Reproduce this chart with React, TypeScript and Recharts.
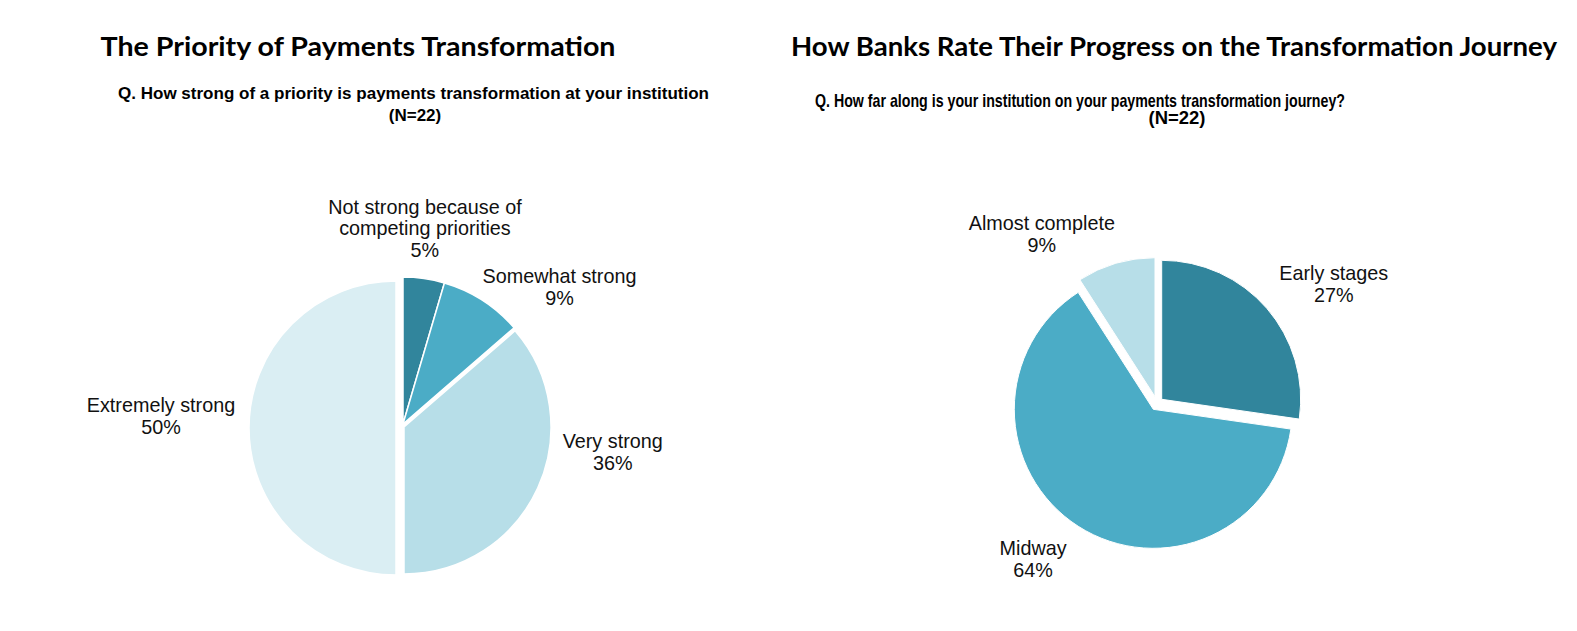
import React from "react";
import { PieChart, Pie, Cell } from "recharts";

// survey answers, N=22
const priorityNames = ["Not strong because of competing priorities", "Somewhat strong", "Very strong", "Extremely strong"];
const priorityCounts = [1, 2, 8, 11];
const progressNames = ["Early stages", "Midway", "Almost complete"];
const progressCounts = [6, 14, 2];

const priorityLines = [["Not strong because of", "competing priorities"], ["Somewhat strong"], ["Very strong"], ["Extremely strong"]];
const progressLines = [["Early stages"], ["Midway"], ["Almost complete"]];

const priorityColors = ["#31859C", "#4BACC6", "#B7DEE8", "#DAEEF3"];
const progressColors = ["#31859C", "#4BACC6", "#B7DEE8"];

const priorityData = priorityNames.map((name, i) => ({ name, value: priorityCounts[i] }));
const progressData = progressNames.map((name, i) => ({ name, value: progressCounts[i] }));

const RAD = Math.PI / 180;
const LABEL_FONT = "'Liberation Sans', Arial, sans-serif";

// exploded slices: each layer draws some slices around its own centre
const priorityLayers = [
  { cx: 403, cy: 424, r: 147, show: [0, 1] },
  { cx: 404, cy: 427, r: 147, show: [2] },
  { cx: 396, cy: 428, r: 147, show: [3] },
];
const progressLayers = [
  { cx: 1161.7, cy: 399.3, r: 139, show: [0] },
  { cx: 1153.3, cy: 409.3, r: 139, show: [1] },
  { cx: 1155, cy: 396.7, r: 139, show: [2] },
];
// label block offset from the slice's outer mid point
const priorityLabelOffsets = [[1, -50], [77, -13], [75, -36], [-88, -12]];
const progressLabelOffsets = [[67, -24], [-45, 33], [-74, -29]];

function makeLabel(show: number[], lines: string[][], offsets: number[][]) {
  return (props: any) => {
    const { cx, cy, midAngle, outerRadius, index, percent } = props;
    if (!show.includes(index)) return null;
    const ex = cx + outerRadius * Math.cos(-midAngle * RAD) + offsets[index][0];
    const ey = cy + outerRadius * Math.sin(-midAngle * RAD) + offsets[index][1];
    const all = [...lines[index], `${Math.round(percent * 100)}%`];
    const lh = 21.7;
    const y0 = ey - ((all.length - 1) * lh) / 2;
    return (
      <text
        key={`l-${index}`}
        x={ex}
        y={y0}
        textAnchor="middle"
        dominantBaseline="central"
        fill="#111"
        fontSize={19.8}
        fontFamily={LABEL_FONT}
      >
        {all.map((t, j) => (
          <tspan key={j} x={ex} y={y0 + j * lh} dominantBaseline="central">
            {t}
          </tspan>
        ))}
      </text>
    );
  };
}

export default function App() {
  return (
    <div style={{ position: "absolute", left: 0, top: 0, width: 1577, height: 631, background: "#fff" }}>
      <PieChart
        width={1577}
        height={631}
        margin={{ top: 0, right: 0, bottom: 0, left: 0 }}
        style={{ position: "absolute", left: 0, top: 0 }}
      >
        {priorityLayers.map((ly, k) => (
          <Pie
            key={`p${k}`}
            data={priorityData}
            dataKey="value"
            nameKey="name"
            cx={ly.cx}
            cy={ly.cy}
            outerRadius={ly.r}
            startAngle={90}
            endAngle={-270}
            labelLine={false}
            label={makeLabel(ly.show, priorityLines, priorityLabelOffsets)}
            isAnimationActive={false}
          >
            {priorityData.map((d, i) =>
              ly.show.includes(i) ? (
                <Cell key={d.name} fill={priorityColors[i]} stroke="#fff" strokeWidth={1.5} />
              ) : (
                <Cell key={d.name} fill="none" stroke="none" />
              )
            )}
          </Pie>
        ))}
        {progressLayers.map((ly, k) => (
          <Pie
            key={`q${k}`}
            data={progressData}
            dataKey="value"
            nameKey="name"
            cx={ly.cx}
            cy={ly.cy}
            outerRadius={ly.r}
            startAngle={90}
            endAngle={-270}
            labelLine={false}
            label={makeLabel(ly.show, progressLines, progressLabelOffsets)}
            isAnimationActive={false}
          >
            {progressData.map((d, i) =>
              ly.show.includes(i) ? (
                <Cell key={d.name} fill={progressColors[i]} stroke="#fff" strokeWidth={1} />
              ) : (
                <Cell key={d.name} fill="none" stroke="none" />
              )
            )}
          </Pie>
        ))}
      </PieChart>
      <svg width={1577} height={631} style={{ position: "absolute", left: 0, top: 0, pointerEvents: "none" }}>
        <g fontFamily="Lato, 'Open Sans', sans-serif" fontWeight="bold" fontSize={26} fill="#000" textAnchor="middle">
          <text x={358} y={56} textLength={515} lengthAdjust="spacingAndGlyphs">
            The Priority of Payments Transformation
          </text>
          <text x={1174} y={56} textLength={766} lengthAdjust="spacingAndGlyphs">
            How Banks Rate Their Progress on the Transformation Journey
          </text>
        </g>
        <g fontFamily={LABEL_FONT} fontWeight="bold" fill="#000" textAnchor="middle">
          <text x={413.5} y={99} fontSize={17} textLength={591} lengthAdjust="spacingAndGlyphs">
            Q. How strong of a priority is payments transformation at your institution
          </text>
          <text x={415} y={121} fontSize={17}>
            (N=22)
          </text>
          <text x={1080} y={107} fontSize={18.5} textLength={530} lengthAdjust="spacingAndGlyphs">
            Q. How far along is your institution on your payments transformation journey?
          </text>
          <text x={1177} y={124} fontSize={17.5} textLength={57} lengthAdjust="spacingAndGlyphs">
            (N=22)
          </text>
        </g>
      </svg>
    </div>
  );
}
